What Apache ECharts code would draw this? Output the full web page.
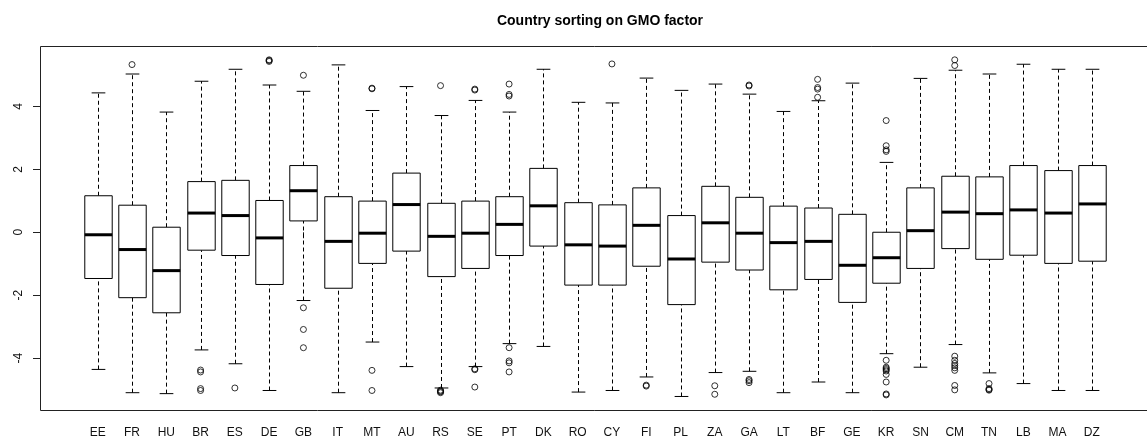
<!DOCTYPE html>
<html>
<head>
<meta charset="utf-8">
<script src="https://cdn.jsdelivr.net/npm/echarts@6/dist/echarts.min.js"></script>
<style>
  html, body { margin: 0; padding: 0; background: #fff; }
  #chart { width: 1147px; height: 441px; }
</style>
</head>
<body>
<div id="chart"></div>
<script>
// Country codes, in plotting order
const countries = ['EE','FR','HU','BR','ES','DE','GB','IT','MT','AU','RS','SE','PT','DK','RO',
                   'CY','FI','PL','ZA','GA','LT','BF','GE','KR','SN','CM','TN','LB','MA','DZ'];

// Five-number summaries of the GMO factor per country
const whiskerLow  = [-4.36,-5.10,-5.13,-3.74,-4.18,-5.03,-2.17,-5.10,-3.49,-4.27,-4.95,-4.27,-3.54,-3.63,-5.08,
                     -5.03,-4.60,-5.22,-4.46,-4.42,-5.10,-4.76,-5.10,-3.86,-4.29,-3.57,-4.47,-4.81,-5.03,-5.03];
const quartile1   = [-1.47,-2.08,-2.56,-0.57,-0.74,-1.66, 0.36,-1.78,-0.99,-0.60,-1.41,-1.15,-0.74,-0.44,-1.68,
                     -1.68,-1.08,-2.30,-0.95,-1.20,-1.83,-1.50,-2.23,-1.62,-1.15,-0.52,-0.86,-0.73,-0.99,-0.92];
const medians     = [-0.08,-0.55,-1.22, 0.61, 0.53,-0.18, 1.32,-0.29,-0.03, 0.88,-0.13,-0.03, 0.25, 0.84,-0.40,
                     -0.44, 0.22,-0.85, 0.30,-0.03,-0.33,-0.29,-1.05,-0.81, 0.05, 0.64, 0.59, 0.71, 0.61, 0.90];
const quartile3   = [ 1.16, 0.86, 0.16, 1.61, 1.65, 1.01, 2.12, 1.13, 0.99, 1.88, 0.92, 0.99, 1.13, 2.03, 0.94,
                      0.87, 1.41, 0.53, 1.46, 1.11, 0.83, 0.77, 0.57, 0.00, 1.41, 1.78, 1.76, 2.12, 1.96, 2.12];
const whiskerHigh = [ 4.43, 5.03, 3.82, 4.80, 5.18, 4.68, 4.48, 5.32, 3.87, 4.63, 3.71, 4.19, 3.82, 5.18, 4.13,
                      4.11, 4.90, 4.51, 4.71, 4.39, 3.84, 4.18, 4.74, 2.22, 4.89, 5.15, 5.03, 5.34, 5.18, 5.18];

// Points beyond the whiskers: [country, value]
const outliers = [
  ['FR', 5.33],
  ['BR',-4.38],['BR',-4.44],['BR',-4.97],['BR',-5.03],
  ['ES',-4.95],
  ['DE', 5.43],['DE', 5.46],['DE', 5.48],
  ['GB', 4.99],['GB',-2.40],['GB',-3.09],['GB',-3.67],
  ['MT', 4.56],['MT', 4.58],['MT',-4.39],['MT',-5.03],
  ['RS', 4.66],['RS',-5.02],['RS',-5.05],['RS',-5.07],['RS',-5.10],
  ['SE', 4.52],['SE', 4.55],['SE',-4.34],['SE',-4.37],['SE',-4.92],
  ['PT', 4.71],['PT', 4.33],['PT', 4.38],['PT',-3.67],['PT',-4.09],['PT',-4.15],['PT',-4.44],
  ['CY', 5.35],
  ['FI',-4.86],['FI',-4.89],
  ['ZA',-4.88],['ZA',-5.15],
  ['GA', 4.65],['GA', 4.68],['GA',-4.68],['GA',-4.72],['GA',-4.78],
  ['BF', 4.86],['BF', 4.60],['BF', 4.55],['BF', 4.29],
  ['KR', 3.55],['KR', 2.75],['KR', 2.62],['KR', 2.57],['KR',-4.07],['KR',-4.29],['KR',-4.33],
  ['KR',-4.37],['KR',-4.41],['KR',-4.52],['KR',-4.76],['KR',-5.14],['KR',-5.17],
  ['CM', 5.48],['CM', 5.30],['CM',-3.94],['CM',-4.07],['CM',-4.17],['CM',-4.24],['CM',-4.31],
  ['CM',-4.39],['CM',-4.87],['CM',-5.01],
  ['TN',-4.81],['TN',-4.97],['TN',-5.00],['TN',-5.02]
];

// Y axis tick labels
const yTicks = [-4, -2, 0, 2, 4];

const yMin = -5.65, yMax = 5.92;

const boxData = countries.map((c, i) =>
  [i, whiskerLow[i], quartile1[i], medians[i], quartile3[i], whiskerHigh[i]]);

function renderBox(params, api) {
  const idx = api.value(0);
  const band = api.size([1, 0])[0];
  const half = band * 0.4;
  const cap = band * 0.2;
  const lo = api.coord([idx, api.value(1)]);
  const q1 = api.coord([idx, api.value(2)]);
  const md = api.coord([idx, api.value(3)]);
  const q3 = api.coord([idx, api.value(4)]);
  const hi = api.coord([idx, api.value(5)]);
  const x = Math.round(lo[0]) + 0.5;
  const dash = { stroke: '#000', lineWidth: 1, lineDash: [4, 3] };
  const solid = { stroke: '#000', lineWidth: 1 };
  return {
    type: 'group',
    children: [
      { type: 'line', shape: { x1: x, y1: q3[1], x2: x, y2: hi[1] }, style: dash },
      { type: 'line', shape: { x1: x, y1: lo[1], x2: x, y2: q1[1] }, style: dash },
      { type: 'line', shape: { x1: x - cap, y1: hi[1], x2: x + cap, y2: hi[1] }, style: solid },
      { type: 'line', shape: { x1: x - cap, y1: lo[1], x2: x + cap, y2: lo[1] }, style: solid },
      { type: 'rect', shape: { x: x - half, y: q3[1], width: half * 2, height: q1[1] - q3[1] },
        style: { fill: '#fff', stroke: '#000', lineWidth: 1 } },
      { type: 'line', shape: { x1: x - half, y1: md[1], x2: x + half, y2: md[1] },
        style: { stroke: '#000', lineWidth: 3 } }
    ]
  };
}

const chart = echarts.init(document.getElementById('chart'), null, { renderer: 'canvas' });
chart.setOption({
  animation: false,
  backgroundColor: '#fff',
  textStyle: { fontFamily: 'Liberation Sans, Arial, sans-serif' },
  title: {
    text: 'Country sorting on GMO factor',
    left: 595,
    textAlign: 'center',
    top: 9,
    textStyle: { fontSize: 14, fontWeight: 'bold', color: '#000', fontFamily: 'Liberation Sans, Arial, sans-serif' }
  },
  // plot frame; its right side lies past the page edge
  graphic: [
    { type: 'rect', silent: true, z: 0,
      shape: { x: 40.5, y: 46.5, width: 1120, height: 364 },
      style: { fill: 'none', stroke: '#222', lineWidth: 1 } }
  ],
  grid: [
    { left: 40, right: 0, top: 46, bottom: 31 },
    { left: 80.6, right: 38, top: 46, bottom: 31 }
  ],
  xAxis: [
    { gridIndex: 0, type: 'value', show: false, min: 0, max: 1 },
    {
      gridIndex: 1, type: 'category', data: countries, boundaryGap: true,
      axisLine: { show: false },
      axisTick: { show: true, alignWithLabel: true, length: 6, lineStyle: { color: '#222' } },
      axisLabel: { interval: 0, margin: 17, fontSize: 12, color: '#111',
                   fontFamily: 'Liberation Sans, Arial, sans-serif' },
      splitLine: { show: false }
    }
  ],
  yAxis: [
    {
      gridIndex: 0, type: 'value', min: yMin, max: yMax,
      axisLine: { show: false },
      axisTick: { show: true, length: 7, customValues: yTicks, lineStyle: { color: '#222' } },
      axisLabel: { customValues: yTicks, rotate: 90, margin: 15, fontSize: 12, color: '#111',
                   fontFamily: 'Liberation Sans, Arial, sans-serif' },
      splitLine: { show: false }
    },
    { gridIndex: 1, type: 'value', min: yMin, max: yMax, show: false, splitLine: { show: false } }
  ],
  series: [
    {
      type: 'custom',
      xAxisIndex: 1, yAxisIndex: 1,
      renderItem: renderBox,
      encode: { x: 0, y: [1, 2, 3, 4, 5] },
      data: boxData
    },
    {
      type: 'scatter',
      xAxisIndex: 1, yAxisIndex: 1,
      symbol: 'circle',
      symbolSize: 6,
      itemStyle: { color: 'rgba(0,0,0,0)', borderColor: '#000', borderWidth: 1 },
      data: outliers
    }
  ]
});
</script>
</body>
</html>
